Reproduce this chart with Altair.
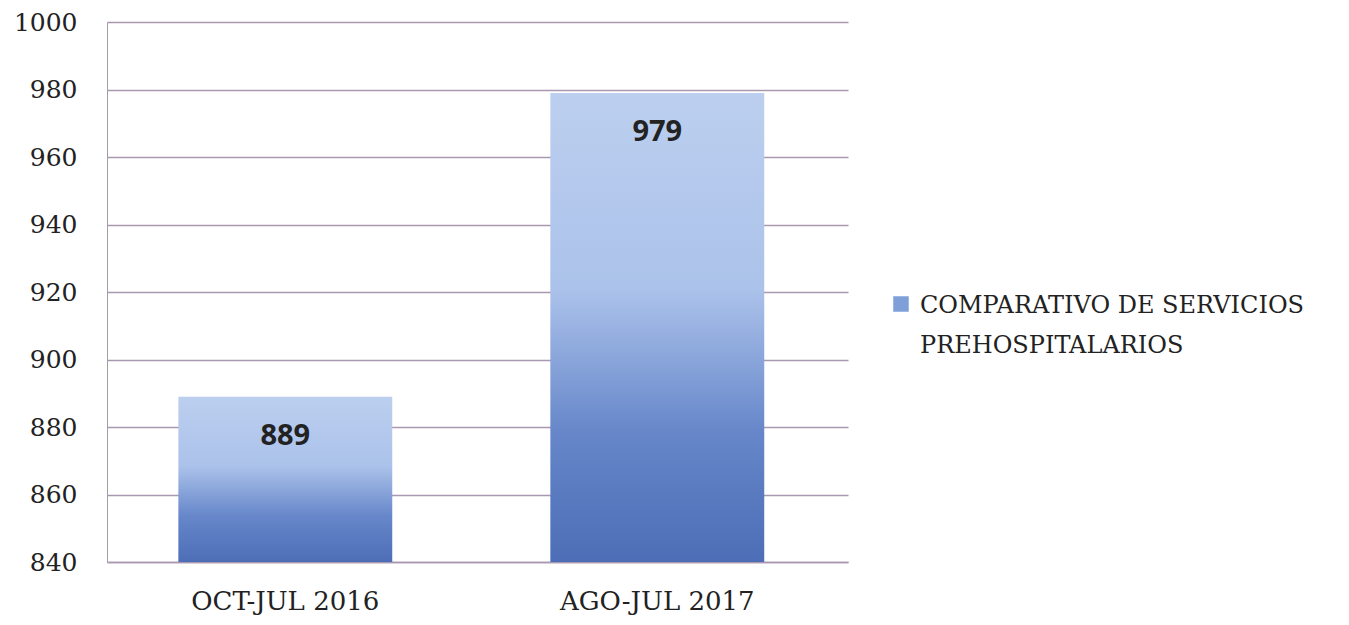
import altair as alt
import pandas as pd

categories = ["OCT-JUL 2016", "AGO-JUL 2017"]
values = [889, 979]
series_name = "COMPARATIVO DE SERVICIOS PREHOSPITALARIOS"
legend_lines = ["COMPARATIVO DE SERVICIOS", "PREHOSPITALARIOS"]
y_ticks = [840, 860, 880, 900, 920, 940, 960, 980, 1000]
y_min, y_max = 840, 1000
label_dy = 9

df = pd.DataFrame({"periodo": categories, "valor": values, "serie": [series_name] * len(categories)})

grad = alt.Gradient(
    gradient="linear",
    x1=0, y1=0, x2=0, y2=1,
    stops=[
        alt.GradientStop(offset=0.0, color="#bccfef"),
        alt.GradientStop(offset=0.42, color="#abc2ea"),
        alt.GradientStop(offset=0.72, color="#6787ca"),
        alt.GradientStop(offset=1.0, color="#4d6db6"),
    ],
)

x_enc = alt.X("periodo:N", sort=categories, title=None,
              scale=alt.Scale(paddingInner=0.425, paddingOuter=0.2085, align=0.46),
              axis=alt.Axis(labelAngle=0, labelFont="DejaVu Serif", labelFontSize=26,
                            labelColor="#222222", labelPadding=26 - label_dy, labelLimit=400,
                            ticks=False, domainColor="#a898b0", domainWidth=1.5))
y_enc = alt.Y("valor:Q", title=None,
              scale=alt.Scale(domain=[y_min, y_max], nice=False, zero=False),
              axis=alt.Axis(values=y_ticks, format="d", labelFont="DejaVu Serif", labelFontSize=25,
                            labelColor="#222222", labelPadding=30, labelOffset=-label_dy,
                            ticks=False, domainColor="#a0a0a0", gridColor="#a898b0", gridWidth=1.5))

bars = alt.Chart(df).mark_bar(fill=grad).encode(
    x=x_enc, y=y_enc, y2=alt.Y2(datum=y_min)
)

legend_expr = "[" + ", ".join("'" + s + "'" for s in legend_lines) + "]"

legend_layer = alt.Chart(df).mark_square(opacity=0, size=10).encode(
    x=alt.X("periodo:N", sort=categories),
    y=alt.Y("valor:Q"),
    fill=alt.Fill("serie:N", title=None,
                  scale=alt.Scale(range=["#7f9fd8"]),
                  legend=alt.Legend(orient="none", legendX=782, legendY=270,
                                    symbolType="square", symbolSize=240, symbolOpacity=1,
                                    labelFont="DejaVu Serif", labelFontSize=24,
                                    labelBaseline="alphabetic",
                                    labelColor="#222222", labelLimit=700, labelOffset=7,
                                    labelExpr=legend_expr)),
)

labels = alt.Chart(df).mark_text(baseline="top", dy=25, font="Open Sans", fontWeight="bold",
                                 fontSize=29, color="#222222").encode(
    x=alt.X("periodo:N", sort=categories),
    y=alt.Y("valor:Q"),
    text=alt.Text("valor:Q"),
)

chart = alt.layer(bars, legend_layer, labels).properties(
    width=741, height=540,
    padding={"left": 99, "top": 14, "right": 470, "bottom": 55},
    autosize=alt.AutoSizeParams(type="none"),
    background="white",
).configure(style={"guide-label": {"lineHeight": 40, "dy": label_dy}}).configure_view(stroke=None)

chart.save("out.html", embed_options={"renderer": "svg", "actions": False})
